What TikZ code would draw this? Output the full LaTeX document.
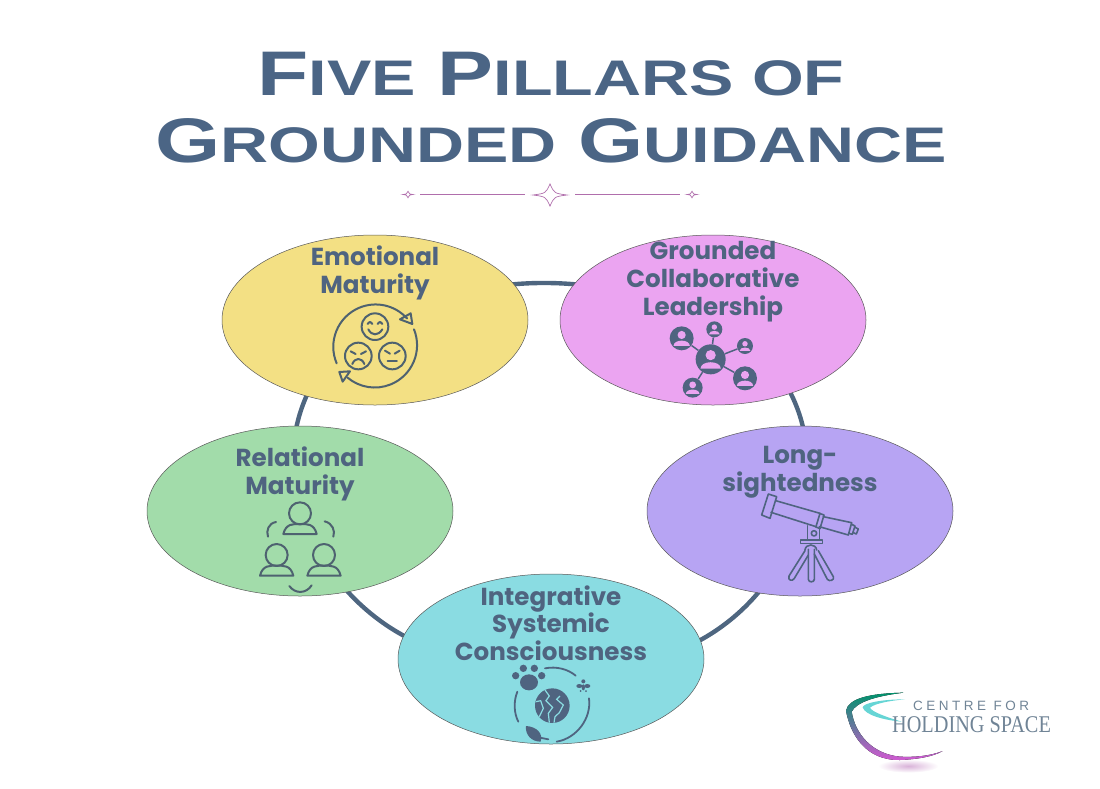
\documentclass[tikz,border=0pt]{standalone}
\usepackage{fontspec}
\usepackage{tikz}
\usetikzlibrary{backgrounds,shapes.geometric}
\newfontfamily\titlefont[FakeStretch=1.33]{Liberation Sans}
\newfontfamily\pillarfont{Poppins}
\newfontfamily\logofont[FakeStretch=0.845]{Liberation Serif}
\newfontfamily\logotopfont[LetterSpace=26]{Liberation Sans}
\definecolor{titleblue}{RGB}{75,101,133}
\definecolor{labelblue}{RGB}{79,100,128}
\definecolor{ringblue}{RGB}{78,102,128}
\definecolor{iconslate}{RGB}{78,98,112}
\definecolor{sparkpink}{RGB}{176,110,172}
\definecolor{yellowfill}{RGB}{243,224,132}
\definecolor{pinkfill}{RGB}{235,164,241}
\definecolor{purplefill}{RGB}{183,164,243}
\definecolor{tealfill}{RGB}{138,220,226}
\definecolor{greenfill}{RGB}{162,220,170}
\definecolor{logotext}{RGB}{112,132,150}
\newcommand{\titleline}[2]{{\fontsize{63}{63}\selectfont #1}{\fontsize{50}{50}\selectfont #2}}
\newcommand{\sparkle}[3]{\draw[sparkline] (#1-#3,#2) .. controls (#1-.25*#3,#2-.1*#3) .. (#1,#2-.65*#3) .. controls (#1+.25*#3,#2-.1*#3) .. (#1+#3,#2) .. controls (#1+.25*#3,#2+.1*#3) .. (#1,#2+.65*#3) .. controls (#1-.25*#3,#2+.1*#3) .. cycle;}
\newcommand{\personicon}[3]{\draw[#3] (#1,#2) circle[radius=33];
  \draw[#3] (#1-50,#2+62) .. controls (#1-42,#2+30) and (#1-20,#2+32) .. (#1,#2+32) .. controls (#1+20,#2+32) and (#1+42,#2+30) .. (#1+50,#2+62) -- cycle;}
\tikzset{
  pillar/.style={draw=black!65, line width=0.5pt, ellipse, inner sep=0pt, minimum width=306pt, minimum height=170pt},
  pillartext/.style={font=\pillarfont\bfseries\fontsize{24.6}{28}\selectfont, text=labelblue, align=center},
  ringlink/.style={draw=ringblue, line width=4.4pt},
  sparkline/.style={draw=sparkpink, line width=0.7pt},
  icon at/.style 2 args={shift={(#1,#2)}, x=0.3333pt, y=-0.3333pt},
  iconline/.style={draw=iconslate, line width=2pt, line cap=round, line join=round},
  netnode/.style={circle, fill=labelblue, inner sep=0pt},
}
\begin{document}
\begin{tikzpicture}[x=1pt, y=-1pt]
  \useasboundingbox (0,0) rectangle (1100,788);
  \node[font=\titlefont\bfseries, text=titleblue, anchor=base] (title1) at (551,95) {\titleline{F}{IVE}\hspace{22pt}\titleline{P}{ILLARS OF}};
  \node[font=\titlefont\bfseries, text=titleblue, anchor=base] (title2) at (551,162) {\titleline{G}{ROUNDED}\hspace{22pt}\titleline{G}{UIDANCE}};
  % divider under the title
  \coordinate (ruleA) at (420,194); \coordinate (ruleB) at (525,194);
  \coordinate (ruleC) at (575,194); \coordinate (ruleD) at (680,194);
  \draw[sparkline] (ruleA) -- (ruleB);
  \draw[sparkline] (ruleC) -- (ruleD);
  \sparkle{408}{194.5}{5}
  \sparkle{550}{195}{17}
  \sparkle{692}{194.5}{5}
  % the five pillars
  \node[pillar, fill=yellowfill] (emotional) at (375,320) {};
  \node[pillar, fill=pinkfill] (leadership) at (713,320) {};
  \node[pillar, fill=purplefill] (sighted) at (800,511) {};
  \node[pillar, fill=tealfill] (systemic) at (551,659) {};
  \node[pillar, fill=greenfill] (relational) at (300,511) {};
  \begin{scope}[on background layer]
    \draw[ringlink] (emotional.center) to[bend left=22] (leadership.center);
    \draw[ringlink] (leadership.center) to[bend left=41] (sighted.center);
    \draw[ringlink] (sighted.center) to[bend left=45] (systemic.center);
    \draw[ringlink] (systemic.center) to[bend left=40] (relational.center);
    \draw[ringlink] (relational.center) to[bend left=37] (emotional.center);
  \end{scope}
  \node[pillartext] (emotionaltext) at (375,273) {Emotional\\Maturity};
  \node[pillartext] (leadershiptext) at (713,282) {Grounded\\Collaborative\\Leadership};
  \node[pillartext] (sightedtext) at (800,472) {Long-\\sightedness};
  \node[pillartext, font=\pillarfont\bfseries\fontsize{24.6}{26}\selectfont] (systemictext) at (551,623) {Integrative\\Systemic\\Consciousness};
  \node[pillartext] (relationaltext) at (300,474) {Relational\\Maturity};
  % faces in a cycle
  \begin{scope}[icon at={220}{230}]
    \draw[iconline] (350,400) arc[start angle=157, end angle=318, radius=127];
    \draw[iconline] (582,298) arc[start angle=338, end angle=490, radius=127];
    \draw[iconline] (540,268) -- (572,250) -- (577,282) -- cycle;
    \draw[iconline] (358,426) -- (390,424) -- (368,455) -- cycle;
    \draw[iconline] (465,290) circle[radius=40];
    \draw[iconline] (415,378) circle[radius=40];
    \draw[iconline] (517,378) circle[radius=40];
    \draw[iconline] (443,282) .. controls (450,274) .. (457,282);
    \draw[iconline] (473,282) .. controls (480,274) .. (487,282);
    \draw[iconline] (445,298) .. controls (455,318) and (475,318) .. (487,298);
    \draw[iconline] (392,364) -- (407,372);
    \draw[iconline] (438,364) -- (423,372);
    \draw[iconline] (397,402) .. controls (405,382) and (425,382) .. (433,402);
    \draw[iconline] (495,362) -- (510,371);
    \draw[iconline] (539,362) -- (524,371);
    \draw[iconline] (503,393) -- (531,393);
  \end{scope}
  % network of people
  \begin{scope}[icon at={600}{300}]
    \node[netnode, minimum size=30pt] (hub) at (332,178) {};
    \node[netnode, minimum size=24pt] (netA) at (245,115) {};
    \node[netnode, minimum size=16pt] (netB) at (343,88) {};
    \node[netnode, minimum size=16pt] (netC) at (435,138) {};
    \node[netnode, minimum size=24pt] (netD) at (435,235) {};
    \node[netnode, minimum size=20pt] (netE) at (278,263) {};
    \foreach \spoke in {netA,netB,netC,netD,netE}
      \draw[labelblue, line width=1.5pt] (hub) -- (\spoke);
    \foreach \px/\py/\pr in {332/178/45, 245/115/36, 343/88/24, 435/138/24, 435/235/36, 278/263/30} {
      \fill[pinkfill] (\px,\py-.28*\pr) circle[radius=.34*\pr];
      \fill[pinkfill] (\px-.68*\pr,\py+.62*\pr) .. controls (\px-.66*\pr,\py+.05*\pr) and (\px+.66*\pr,\py+.05*\pr) .. (\px+.68*\pr,\py+.62*\pr) -- cycle;
    }
  \end{scope}
  % telescope
  \begin{scope}[icon at={740}{480}, iconline/.append style={draw=labelblue, line width=1.6pt}]
    \draw[iconline] (85,42) -- (110,50) -- (90,115) -- (65,105) -- cycle;
    \draw[iconline] (107,62) -- (240,100) -- (228,140) -- (93,97);
    \draw[iconline] (238,100) -- (252,105) -- (240,146) -- (226,140);
    \draw[iconline] (250,110) -- (335,128) -- (325,165) -- (238,140);
    \draw[iconline] (335,133) -- (345,138) -- (337,163) -- (327,160);
    \draw[iconline] (345,142) -- (355,147) -- (349,162) -- (340,158);
    \draw[iconline] (203,137) -- (203,180) -- (238,180) -- (238,145);
    \draw[iconline] (222,160) circle[radius=8];
    \draw[iconline] (182,180) rectangle (247,191);
    \draw[iconline] (195,210) .. controls (197,190) and (228,190) .. (230,210);
    \draw[iconline] (205,208) -- (205,298) .. controls (205,308) and (223,308) .. (223,298) -- (223,208);
    \draw[iconline] (195,212) -- (147,288) .. controls (142,302) and (158,305) .. (163,295) -- (205,225);
    \draw[iconline] (223,222) -- (262,298) .. controls (268,306) and (285,300) .. (280,290) -- (235,212);
  \end{scope}
  % three people
  \begin{scope}[icon at={250}{490}]
    \personicon{150}{70}{iconline}
    \personicon{80}{195}{iconline}
    \personicon{222}{195}{iconline}
    \draw[iconline] (78,96) .. controls (55,100) and (48,122) .. (54,140);
    \draw[iconline] (224,94) .. controls (248,100) and (256,122) .. (250,140);
    \draw[iconline] (118,288) .. controls (135,312) and (168,312) .. (185,286);
  \end{scope}
  % earth and living things
  \begin{scope}[icon at={480}{660}, iconline/.append style={draw=labelblue, line width=1.8pt}]
    \fill[labelblue] (217,137) circle[radius=52];
    \draw[tealfill, line width=1.2pt] (195,90) -- (208,108) -- (198,122) -- (218,142) -- (205,160) -- (208,188);
    \draw[tealfill, line width=1.2pt] (240,108) -- (230,118) -- (250,135) -- (238,158) -- (225,170) -- (222,188);
    \draw[tealfill, line width=1.2pt] (168,125) -- (182,122) -- (190,145) -- (178,170);
    \fill[labelblue] (147,67) ellipse[x radius=27, y radius=24];
    \fill[labelblue] (107,47) circle[radius=11];
    \fill[labelblue] (130,25) circle[radius=11];
    \fill[labelblue] (163,25) circle[radius=11];
    \fill[labelblue] (185,47) circle[radius=11];
    \draw[iconline] (195,25) .. controls (230,18) and (265,28) .. (287,47);
    \draw[iconline] (112,95) .. controls (100,125) and (102,160) .. (115,185);
    \draw[iconline] (327,115) .. controls (335,175) and (290,235) .. (230,245);
    \fill[labelblue] (138,198) .. controls (170,200) and (190,220) .. (182,245) .. controls (155,245) and (135,225) .. (138,198) -- cycle;
    \draw[iconline] (165,230) -- (205,238);
    \fill[labelblue] (310,64) circle[radius=6];
    \fill[labelblue] (298,78) ellipse[x radius=9, y radius=6];
    \fill[labelblue] (322,78) ellipse[x radius=9, y radius=6];
    \fill[labelblue] (310,82) ellipse[x radius=5, y radius=9];
    \fill[labelblue] (302,93) circle[radius=3];
    \fill[labelblue] (318,93) circle[radius=3];
  \end{scope}
  % logo
  \begin{scope}[icon at={820}{670}]
    \shade[inner color=violet!30, outer color=white, draw=none] (265,288) ellipse[x radius=90, y radius=20];
    \fill[top color=teal!85!green, middle color=cyan!45!teal!80, bottom color=violet!55!magenta!65] (250,68) .. controls (150,70) and (85,85) .. (78,122) .. controls (90,190) and (135,272) .. (240,270) .. controls (290,268) and (340,260) .. (368,243) .. controls (330,258) and (285,262) .. (240,260) .. controls (155,252) and (105,190) .. (95,125) .. controls (110,95) and (170,78) .. (250,68) -- cycle;
    \fill[teal!55!cyan!60] (255,88) .. controls (180,88) and (130,100) .. (128,112) .. controls (135,135) and (190,150) .. (245,155) .. controls (195,140) and (155,125) .. (150,113) .. controls (165,100) and (210,92) .. (255,88) -- cycle;
    \node[font=\logotopfont\fontsize{13.5}{13.5}\selectfont, text=logotext, anchor=base west, inner sep=0pt] (logotop) at (279,122) {CENTRE FOR};
    \node[font=\logofont\fontsize{24}{24}\selectfont, text=logotext, anchor=base west, inner sep=0pt] (logoname) at (216,188) {HOLDING SPACE};
  \end{scope}
\end{tikzpicture}
\end{document}
